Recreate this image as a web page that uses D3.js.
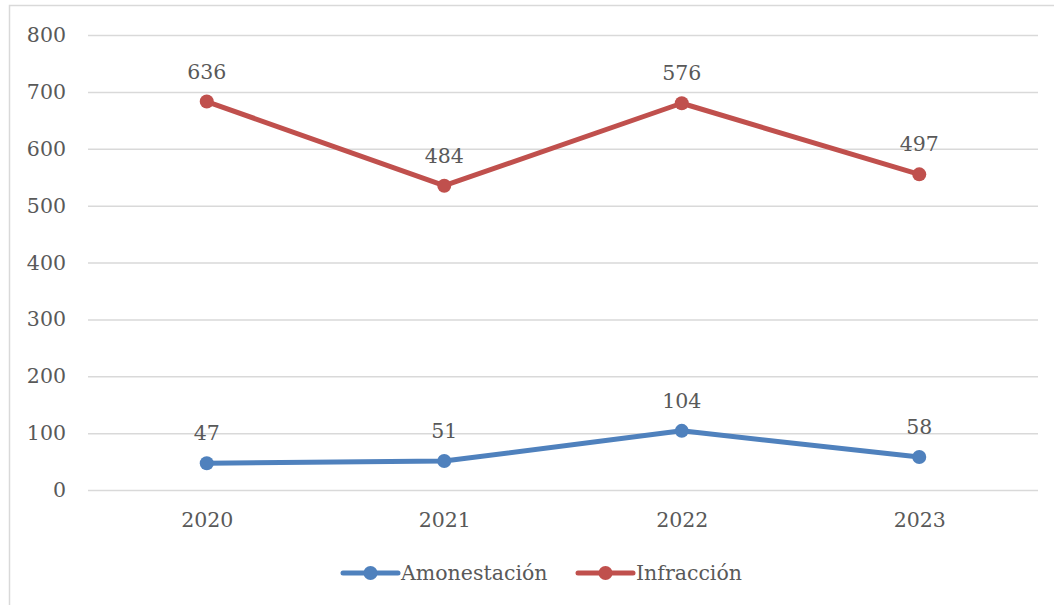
<!DOCTYPE html>
<html>
<head>
<meta charset="utf-8">
<script src="https://cdn.jsdelivr.net/npm/d3@7"></script>
<style>
  html, body { margin: 0; padding: 0; background: #fff; }
  svg { display: block; }
  text { font-family: "DejaVu Serif", "Liberation Serif", serif; fill: #595959; }
</style>
</head>
<body>
<svg id="chart" width="1054" height="605"></svg>
<script>
// Yearly counts per category (stacked line chart)
const years = ["2020", "2021", "2022", "2023"];
const amonestacion = [47, 51, 104, 58];
const infraccion = [636, 484, 576, 497];
const yTicks = [0, 100, 200, 300, 400, 500, 600, 700, 800];

const seriesNames = ["Amonestación", "Infracción"];
const colors = { "Amonestación": "#4f81bd", "Infracción": "#c0504d" };

const rows = years.map((y, i) => ({ year: y, "Amonestación": amonestacion[i], "Infracción": infraccion[i] }));
const stacked = d3.stack().keys(seriesNames)(rows);

const svg = d3.select("#chart");
const W = 1054, H = 605;
const plot = { left: 88, right: 1038, top: 35, bottom: 490 };
const fs = 20.5;

// chart frame
svg.append("rect")
  .attr("x", 9.5).attr("y", 5.5)
  .attr("width", W + 10).attr("height", H + 10)
  .attr("fill", "none").attr("stroke", "#d9d9d9").attr("stroke-width", 1.5);

const x = d3.scalePoint().domain(years).range([plot.left, plot.right]).padding(0.5);
const y = d3.scaleLinear().domain([0, 800]).range([plot.bottom, plot.top]);

// horizontal gridlines + y labels
const yAxis = d3.axisLeft(y).tickValues(yTicks).tickSize(-(plot.right - plot.left)).tickPadding(22);
const gy = svg.append("g").attr("transform", `translate(${plot.left},0)`).call(yAxis);
gy.select(".domain").remove();
gy.selectAll(".tick line").attr("stroke", "#d9d9d9").attr("stroke-width", 1.5);
gy.selectAll(".tick text").attr("font-size", fs).attr("fill", "#595959")
  .style("font-family", "DejaVu Serif, serif");

// x labels
const xAxis = d3.axisBottom(x).tickSize(0).tickPadding(22);
const gx = svg.append("g").attr("transform", `translate(0,${plot.bottom})`).call(xAxis);
gx.select(".domain").remove();
gx.selectAll(".tick text").attr("font-size", fs).attr("fill", "#595959")
  .style("font-family", "DejaVu Serif, serif");

const line = d3.line().x(d => x(d.data.year)).y(d => y(d[1]));

stacked.forEach(s => {
  const c = colors[s.key];
  svg.append("path").datum(s)
    .attr("d", line)
    .attr("fill", "none").attr("stroke", c)
    .attr("stroke-width", 5).attr("stroke-linejoin", "round").attr("stroke-linecap", "round");
  svg.selectAll(null).data(s).enter().append("circle")
    .attr("cx", d => x(d.data.year)).attr("cy", d => y(d[1]))
    .attr("r", 7).attr("fill", c);
  svg.selectAll(null).data(s).enter().append("text")
    .attr("x", d => x(d.data.year)).attr("y", d => y(d[1]) - 23)
    .attr("text-anchor", "middle").attr("font-size", fs)
    .text(d => d.data[s.key]);
});

// legend
const legend = [{ name: "Amonestación", x0: 343 }, { name: "Infracción", x0: 578 }];
const ly = 573;
legend.forEach(l => {
  const g = svg.append("g");
  g.append("line").attr("x1", l.x0).attr("x2", l.x0 + 55).attr("y1", ly).attr("y2", ly)
    .attr("stroke", colors[l.name]).attr("stroke-width", 5).attr("stroke-linecap", "round");
  g.append("circle").attr("cx", l.x0 + 27.5).attr("cy", ly).attr("r", 7).attr("fill", colors[l.name]);
  g.append("text").attr("x", l.x0 + 58).attr("y", ly + 7).attr("font-size", fs).text(l.name);
});
</script>
</body>
</html>
